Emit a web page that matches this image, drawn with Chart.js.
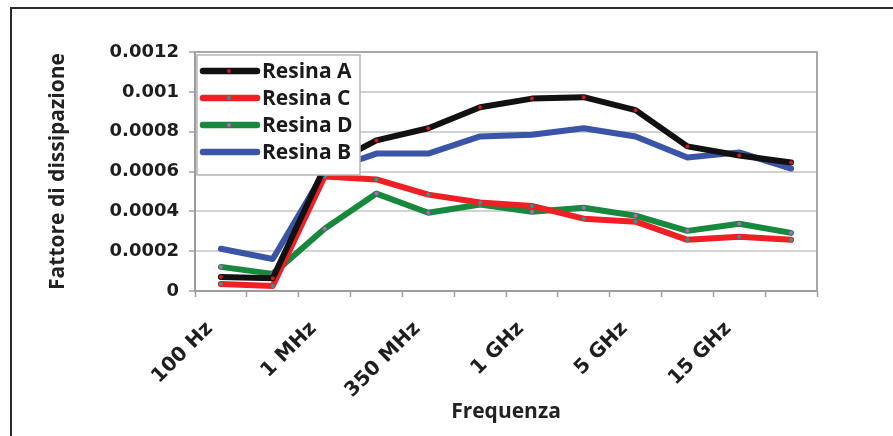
<!DOCTYPE html>
<html>
<head>
<meta charset="utf-8">
<script src="https://cdn.jsdelivr.net/npm/chart.js@4"></script>
<style>
  html, body { margin: 0; padding: 0; background: #fff; overflow: hidden; }
  #wrap { position: relative; width: 893px; height: 436px; }
  #frame { position: absolute; left: 10px; top: 7px; width: 1000px; height: 1000px;
           border: 2px solid #2a2a2a; box-sizing: border-box; }
  canvas { position: absolute; left: 0; top: 0; }
</style>
</head>
<body>
<div id="wrap">
  <div id="frame"></div>
  <canvas id="c" width="893" height="436"></canvas>
</div>
<script>
// Frequency categories (every other one carries a label)
const frequencies = ['100 Hz', '', '1 MHz', '', '350 MHz', '', '1 GHz', '', '5 GHz', '', '15 GHz', ''];

// Dissipation factor per resin
const resinA = [0.00007, 0.000064, 0.00062, 0.000756, 0.000817, 0.000923, 0.000966, 0.000973, 0.000908, 0.000726, 0.00068, 0.000645];
const resinC = [0.000035, 0.000025, 0.000575, 0.00056, 0.000484, 0.000444, 0.000427, 0.000363, 0.000348, 0.000257, 0.000272, 0.000257];
const resinD = [0.000121, 0.000086, 0.000313, 0.000489, 0.000393, 0.000434, 0.000398, 0.000418, 0.000378, 0.000302, 0.000338, 0.000292];
const resinB = [0.000212, 0.000161, 0.0006, 0.00069, 0.00069, 0.000776, 0.000785, 0.000817, 0.000776, 0.00067, 0.000696, 0.000615];

const seriesNames = ['Resina A', 'Resina C', 'Resina D', 'Resina B'];
const seriesData = [resinA, resinC, resinD, resinB];
const lineColors = ['#111111', '#ee2024', '#16893f', '#3a55a8'];
const dotColors = ['#d01818', '#1f9c9c', '#c55ac8', '#3a55a8'];

const titleFont = { family: '"Open Sans", sans-serif', size: 21, weight: 'bold' };
const yTickFont = { family: '"DejaVu Sans", sans-serif', size: 18, weight: 'bold' };
const xTickFont = { family: '"DejaVu Sans", sans-serif', size: 20, weight: 'bold' };

// Frame of the plot area (top and right edges) plus the inset legend box
const plotDecor = {
  id: 'plotDecor',
  afterDatasetsDraw(chart) {
    const { ctx, chartArea: a } = chart;
    ctx.save();
    ctx.strokeStyle = '#a8a8a8';
    ctx.lineWidth = 2;
    ctx.beginPath();
    ctx.moveTo(a.left, a.top);
    ctx.lineTo(a.right, a.top);
    ctx.lineTo(a.right, a.bottom);
    ctx.stroke();

    // legend
    const bx = a.left + 2, by = a.top + 3, bw = 163, bh = 120;
    ctx.fillStyle = '#ffffff';
    ctx.fillRect(bx, by, bw, bh);
    ctx.strokeStyle = '#b4b4b4';
    ctx.lineWidth = 1.5;
    ctx.strokeRect(bx, by, bw, bh);
    ctx.font = 'bold 21px "Open Sans", sans-serif';
    ctx.textBaseline = 'middle';
    ctx.textAlign = 'left';
    chart.data.datasets.forEach((ds, i) => {
      const y = by + 16 + i * 27;
      ctx.strokeStyle = ds.borderColor;
      ctx.lineWidth = 6.5;
      ctx.lineCap = 'round';
      ctx.beginPath();
      ctx.moveTo(bx + 6, y);
      ctx.lineTo(bx + 60, y);
      ctx.stroke();
      ctx.fillStyle = ds.pointBackgroundColor;
      ctx.beginPath();
      ctx.arc(bx + 32, y, 2, 0, Math.PI * 2);
      ctx.fill();
      ctx.fillStyle = '#1a1a1a';
      ctx.fillText(ds.label, bx + 65, y + 1);
    });
    ctx.restore();
  }
};

new Chart(document.getElementById('c'), {
  type: 'line',
  data: {
    labels: frequencies,
    datasets: seriesNames.map((name, i) => ({
      label: name,
      data: seriesData[i],
      borderColor: lineColors[i],
      backgroundColor: lineColors[i],
      borderWidth: 6,
      borderJoinStyle: 'round',
      borderCapStyle: 'round',
      tension: 0,
      pointRadius: 2,
      pointHoverRadius: 2,
      pointBorderWidth: 0,
      pointBackgroundColor: dotColors[i]
    }))
  },
  options: {
    responsive: false,
    animation: false,
    events: [],
    layout: { padding: { top: 52, right: 76, left: 0, bottom: 0 } },
    plugins: {
      legend: { display: false },
      tooltip: { enabled: false }
    },
    scales: {
      x: {
        type: 'category',
        offset: true,
        afterFit(scale) { scale.height = 145; },
        grid: {
          offset: true,
          drawOnChartArea: false,
          drawTicks: true,
          tickLength: 6,
          tickColor: '#a0a0a0',
          tickWidth: 1.5
        },
        border: { display: true, color: '#9c9c9c', width: 2 },
        ticks: {
          autoSkip: false,
          minRotation: 45,
          maxRotation: 45,
          padding: 20,
          labelOffset: -11,
          color: '#1e1e1e',
          font: xTickFont
        },
        title: {
          display: true,
          text: 'Frequenza',
          color: '#222222',
          font: titleFont,
          padding: { top: 0, bottom: 11 }
        }
      },
      y: {
        min: 0,
        max: 0.0012,
        afterFit(scale) { scale.width = 195; },
        grid: {
          color: '#d2d2d2',
          lineWidth: 2,
          tickLength: 6,
          tickColor: '#a0a0a0',
          tickWidth: 1.5
        },
        border: { display: true, color: '#9c9c9c', width: 2 },
        ticks: {
          stepSize: 0.0002,
          padding: 10,
          color: '#1e1e1e',
          font: yTickFont,
          callback: (v) => String(Number(v.toFixed(4)))
        },
        title: {
          display: true,
          text: 'Fattore di dissipazione',
          color: '#222222',
          font: titleFont,
          padding: { top: 45, bottom: 0 }
        }
      }
    }
  },
  plugins: [plotDecor]
});
</script>
</body>
</html>
